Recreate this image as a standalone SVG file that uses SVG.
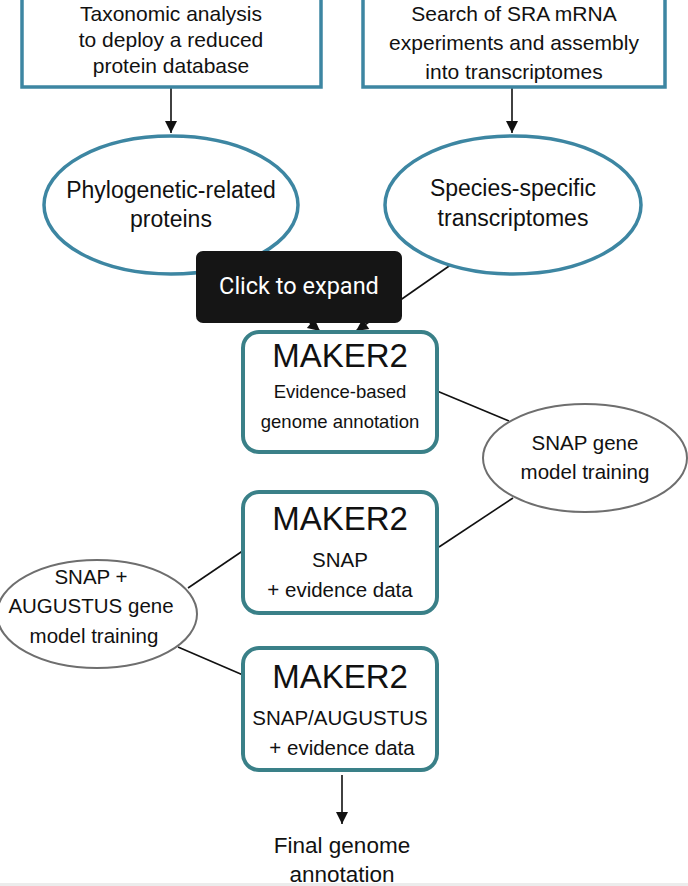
<svg xmlns="http://www.w3.org/2000/svg" width="688" height="886" viewBox="0 0 688 886">
<style>
  text { font-family: "Liberation Sans", Arial, sans-serif; fill: #111; text-anchor: middle; }
  .blue { fill: #fff; stroke: #3d86a2; stroke-width: 3.5; }
  .teal { fill: #fff; stroke: #3a8088; stroke-width: 4; }
  .gray { fill: #fff; stroke: #6e6e6e; stroke-width: 2; }
  .line { stroke: #111; stroke-width: 1.6; fill: none; }
  .t21 { font-size: 21px; }
  .t23 { font-size: 23px; }
  .t205 { font-size: 20.5px; }
  .maker { font-size: 33px; }
</style>
<defs>
  <marker id="arrL" viewBox="0 0 10 10" refX="10" refY="5" markerWidth="15" markerHeight="12" markerUnits="userSpaceOnUse" orient="auto">
    <path d="M0,0 L10,5 L0,10 Z" fill="#111"/>
  </marker>
</defs>
<rect width="688" height="886" fill="#fff"/>

<g id="connectors">
  <line class="line" x1="171" y1="88" x2="171" y2="133" marker-end="url(#arrL)"/>
  <line class="line" x1="512" y1="88" x2="512" y2="133" marker-end="url(#arrL)"/>
  <line class="line" x1="235" y1="262" x2="320" y2="331" marker-end="url(#arrL)"/>
  <line class="line" x1="452" y1="264" x2="356" y2="331" marker-end="url(#arrL)"/>
  <line class="line" x1="437" y1="391" x2="509" y2="421"/>
  <line class="line" x1="513" y1="498" x2="439" y2="547"/>
  <line class="line" x1="188" y1="588" x2="247" y2="548"/>
  <line class="line" x1="178" y1="647" x2="243" y2="675"/>
  <line class="line" x1="342" y1="775" x2="342" y2="824" marker-end="url(#arrL)"/>
</g>

<g id="taxonomic">
  <rect class="blue" x="22" y="-10" width="299" height="97"/>
  <text class="t21" x="171" y="21">Taxonomic analysis</text>
  <text class="t21" x="171" y="47">to deploy a reduced</text>
  <text class="t21" x="171" y="73">protein database</text>
</g>

<g id="sra">
  <rect class="blue" x="363" y="-10" width="302" height="97"/>
  <text class="t21" x="514" y="21">Search of SRA mRNA</text>
  <text class="t21" x="514" y="50">experiments and assembly</text>
  <text class="t21" x="514" y="79">into transcriptomes</text>
</g>

<g id="proteins">
  <ellipse class="blue" cx="171" cy="205" rx="127" ry="69"/>
  <text class="t23" x="171" y="198">Phylogenetic-related</text>
  <text class="t23" x="171" y="227">proteins</text>
</g>

<g id="transcriptomes">
  <ellipse class="blue" cx="513" cy="205" rx="128" ry="69"/>
  <text class="t23" x="513" y="196">Species-specific</text>
  <text class="t23" x="513" y="226">transcriptomes</text>
</g>

<g id="maker1">
  <rect class="teal" x="243" y="332" width="194" height="120" rx="16"/>
  <text class="maker" x="340" y="367">MAKER2</text>
  <text x="340" y="398" style="font-size:18.5px">Evidence-based</text>
  <text x="340" y="428" style="font-size:18.5px">genome annotation</text>
</g>

<g id="snap-training">
  <ellipse class="gray" cx="585" cy="458" rx="102" ry="54"/>
  <text class="t205" x="585" y="450">SNAP gene</text>
  <text class="t205" x="585" y="479">model training</text>
</g>

<g id="maker2">
  <rect class="teal" x="243" y="492" width="194" height="121" rx="16"/>
  <text class="maker" x="340" y="530">MAKER2</text>
  <text class="t205" x="340" y="567">SNAP</text>
  <text class="t205" x="340" y="597">+ evidence data</text>
</g>

<g id="snap-augustus-training">
  <ellipse class="gray" cx="97" cy="614" rx="100" ry="54"/>
  <text class="t205" x="91" y="584">SNAP +</text>
  <text class="t205" x="91" y="613">AUGUSTUS gene</text>
  <text class="t205" x="94" y="643">model training</text>
</g>

<g id="maker3">
  <rect class="teal" x="243" y="648" width="194" height="122" rx="16"/>
  <text class="maker" x="340" y="688">MAKER2</text>
  <text class="t205" x="340" y="725">SNAP/AUGUSTUS</text>
  <text class="t205" x="342" y="755">+ evidence data</text>
</g>

<g id="final">
  <text x="342" y="853" style="font-size:22.5px">Final genome</text>
  <text x="342" y="882" style="font-size:22.5px">annotation</text>
</g>

<g id="tooltip">
  <rect x="196" y="251" width="206" height="72" rx="7" fill="#151515"/>
  <text x="299" y="294" style="font-family:Roboto,'Liberation Sans',sans-serif;font-size:23.5px;fill:#fff">Click to expand</text>
</g>

<rect x="0" y="883" width="688" height="3" fill="#ececec"/>
</svg>
